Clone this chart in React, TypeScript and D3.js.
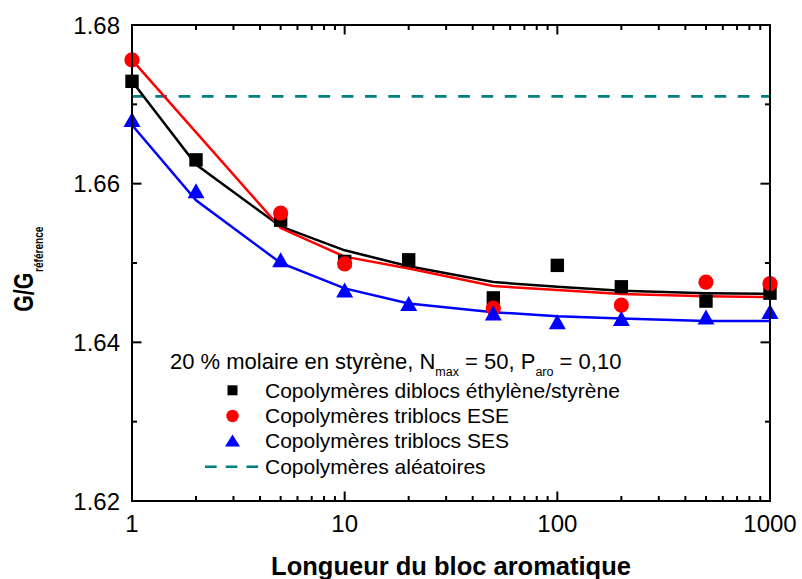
import React from "react";
import * as d3 from "d3";

// ---- data ----
const blockLengths = [1, 2, 5, 10, 20, 50, 100, 200, 500, 1000];
const diblocVals = [1.6729, 1.663, 1.6554, 1.6502, 1.6504, 1.6456, 1.6497, 1.647, 1.6452, 1.6462];
const eseX = [1, 5, 10, 50, 200, 500, 1000];
const eseVals = [1.6756, 1.6563, 1.6499, 1.6443, 1.6447, 1.6476, 1.6474];
const sesVals = [1.6681, 1.6591, 1.6504, 1.6466, 1.6449, 1.6437, 1.6426, 1.643, 1.6432, 1.6439];

const diblocFitX = [1, 2, 5, 10, 20, 50, 100, 200, 500, 1000];
const diblocFit = [1.6729, 1.6624, 1.6546, 1.6516, 1.6496, 1.6476, 1.647, 1.6465, 1.6462, 1.6461];
const eseFitX = [1, 5, 10, 20, 50, 100, 200, 500, 1000];
const eseFit = [1.6756, 1.6544, 1.6508, 1.6493, 1.6471, 1.6466, 1.6461, 1.6458, 1.6457];
const sesFitX = [1, 2, 5, 10, 20, 50, 100, 200, 500, 1000];
const sesFit = [1.6674, 1.6579, 1.65, 1.6468, 1.6449, 1.6438, 1.6433, 1.643, 1.6427, 1.6427];

const randomLevel = 1.671;

const xTicks = [1, 10, 100, 1000];
const xTickLabels = ["1", "10", "100", "1000"];
const yTicks = [1.62, 1.64, 1.66, 1.68];
const yTickLabels = ["1.62", "1.64", "1.66", "1.68"];
const yMinorTicks = [1.63, 1.65, 1.67];
const xMinorTicks = [2, 3, 4, 5, 6, 7, 8, 9, 20, 30, 40, 50, 60, 70, 80, 90, 200, 300, 400, 500, 600, 700, 800, 900];

const legendLabels = [
  "Copolymères diblocs éthylène/styrène",
  "Copolymères triblocs ESE",
  "Copolymères triblocs SES",
  "Copolymères aléatoires",
];

const FONT = "'Liberation Sans', Arial, Helvetica, sans-serif";

export default function App() {
  const L = 132, R = 770, T = 25, B = 501;
  const x = d3.scaleLog().domain([1, 1000]).range([L, R]);
  const y = d3.scaleLinear().domain([1.62, 1.68]).range([B, T]);

  const line = (xs: number[], ys: number[]) =>
    d3.line<number>().x((_, i) => x(xs[i])).y((v) => y(v))(ys) || "";

  const sq = 13.4, cr = 7.6, triW = 17, triH = 15;
  const triPath = (cx: number, cy: number, w: number, h: number) =>
    `M${cx - w / 2},${cy + h / 2}L${cx + w / 2},${cy + h / 2}L${cx},${cy - h / 2}Z`;

  const majorLen = 9.5, minorLen = 5;

  const legX = 232.5;
  const legTextX = 265;
  const legRowsY = [390.3, 416, 440.5, 466.7];
  const legBase = [397.5, 423, 448, 473.5];

  return (
    <svg
      width={802}
      height={579}
      style={{ position: "absolute", left: 0, top: 0, background: "#fff" }}
      fontFamily={FONT}
    >
      <rect x={0} y={0} width={802} height={579} fill="#fff" />

      {/* random copolymer dashed line */}
      <line x1={L} x2={R} y1={y(randomLevel)} y2={y(randomLevel)} stroke="#008080" strokeWidth={2.6} strokeDasharray="11.7 11.6" />

      {/* fitted lines */}
      <path d={line(diblocFitX, diblocFit)} fill="none" stroke="#000" strokeWidth={2.5} />
      <path d={line(eseFitX, eseFit)} fill="none" stroke="#ff0000" strokeWidth={2.5} />
      <path d={line(sesFitX, sesFit)} fill="none" stroke="#0000ff" strokeWidth={2.5} />

      {/* markers */}
      {blockLengths.map((b, i) => (
        <rect key={"s" + i} x={x(b) - sq / 2} y={y(diblocVals[i]) - sq / 2} width={sq} height={sq} fill="#000" />
      ))}
      {eseX.map((b, i) => (
        <circle key={"c" + i} cx={x(b)} cy={y(eseVals[i])} r={cr} fill="#ff0000" />
      ))}
      {blockLengths.map((b, i) => (
        <path key={"t" + i} d={triPath(x(b), y(sesVals[i]), triW, triH)} fill="#0000ff" />
      ))}

      {/* axes box */}
      <rect x={L} y={T} width={R - L} height={B - T} fill="none" stroke="#000" strokeWidth={2} />

      {/* y ticks */}
      {yTicks.map((t) => (
        <g key={"yt" + t}>
          <line x1={L} x2={L + majorLen} y1={y(t)} y2={y(t)} stroke="#000" strokeWidth={2} />
          <line x1={R} x2={R - majorLen} y1={y(t)} y2={y(t)} stroke="#000" strokeWidth={2} />
        </g>
      ))}
      {yMinorTicks.map((t) => (
        <g key={"ym" + t}>
          <line x1={L} x2={L + minorLen} y1={y(t)} y2={y(t)} stroke="#000" strokeWidth={2} />
          <line x1={R} x2={R - minorLen} y1={y(t)} y2={y(t)} stroke="#000" strokeWidth={2} />
        </g>
      ))}
      {yTicks.map((t, i) => (
        <text key={"yl" + t} x={120} y={y(t) + 8.6} textAnchor="end" fontSize={24} fill="#000">
          {yTickLabels[i]}
        </text>
      ))}

      {/* x ticks */}
      {xTicks.map((t) => (
        <g key={"xt" + t}>
          <line x1={x(t)} x2={x(t)} y1={B} y2={B - majorLen} stroke="#000" strokeWidth={2} />
          <line x1={x(t)} x2={x(t)} y1={T} y2={T + majorLen} stroke="#000" strokeWidth={2} />
        </g>
      ))}
      {xMinorTicks.map((t) => (
        <g key={"xm" + t}>
          <line x1={x(t)} x2={x(t)} y1={B} y2={B - minorLen} stroke="#000" strokeWidth={2} />
          <line x1={x(t)} x2={x(t)} y1={T} y2={T + minorLen} stroke="#000" strokeWidth={2} />
        </g>
      ))}
      {xTicks.map((t, i) => (
        <text key={"xl" + t} x={x(t)} y={532} textAnchor="middle" fontSize={24} fill="#000">
          {xTickLabels[i]}
        </text>
      ))}

      {/* axis titles */}
      <text x={(L + R) / 2} y={575} textAnchor="middle" fontSize={25.5} fontWeight="bold" fill="#000">
        Longueur du bloc aromatique
      </text>
      <text transform="translate(33.3,311.7) rotate(-90)" fontSize={28} fontWeight="bold" fill="#000" textLength={39} lengthAdjust="spacingAndGlyphs">
        G/G
      </text>
      <text transform="translate(42.7,272) rotate(-90)" fontSize={13} fontWeight="bold" fill="#000" textLength={45.5} lengthAdjust="spacingAndGlyphs">
        référence
      </text>

      {/* legend */}
      <text x={170} y={369} fontSize={22} fill="#000">
        20 % molaire en styrène, N
        <tspan fontSize={12.5} dy={7}>max</tspan>
        <tspan dy={-7}> = 50, P</tspan>
        <tspan fontSize={12.5} dy={7}>aro</tspan>
        <tspan dy={-7}> = 0,10</tspan>
      </text>
      <rect x={legX - 5} y={legRowsY[0] - 5} width={10} height={10} fill="#000" />
      <circle cx={legX} cy={legRowsY[1]} r={6.2} fill="#ff0000" />
      <path d={triPath(legX, legRowsY[2], 15, 12)} fill="#0000ff" />
      <line x1={205} x2={260} y1={legRowsY[3]} y2={legRowsY[3]} stroke="#008080" strokeWidth={2.6} strokeDasharray="11.7 9" />
      {legendLabels.map((lab, i) => (
        <text key={lab} x={legTextX} y={legBase[i]} fontSize={21} fill="#000">
          {lab}
        </text>
      ))}
    </svg>
  );
}
